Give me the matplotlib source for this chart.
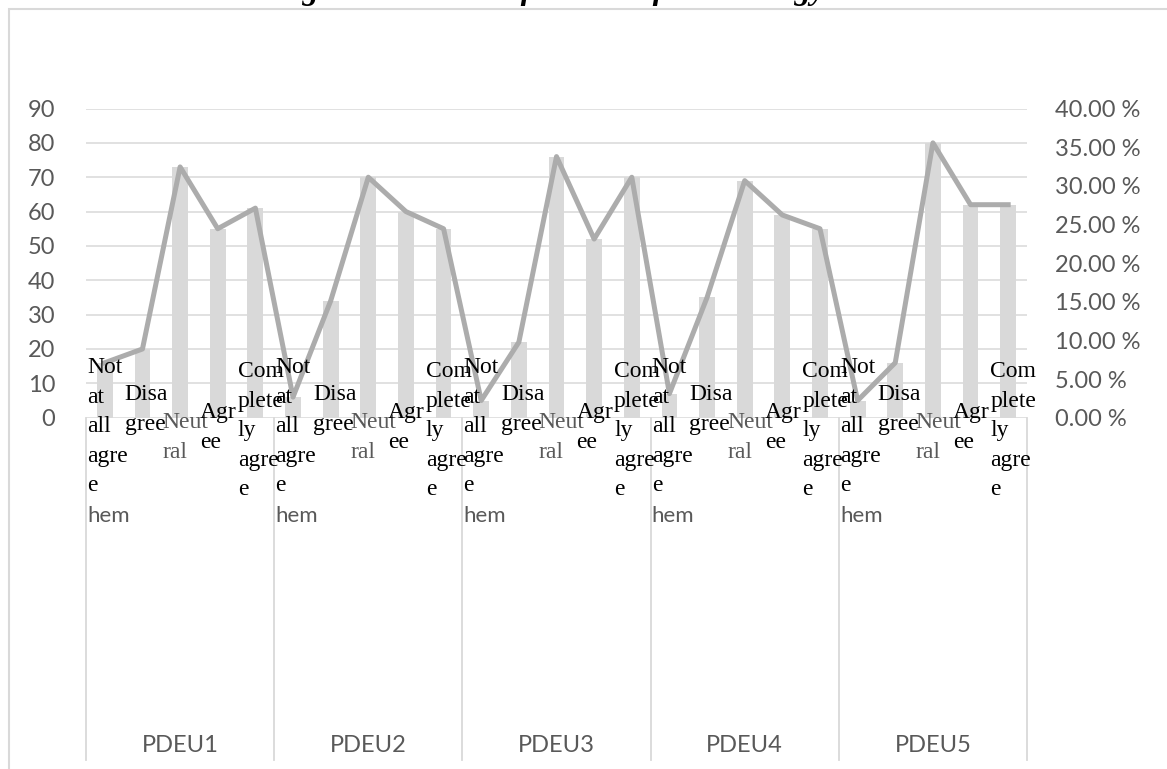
import matplotlib
matplotlib.use("Agg")
import matplotlib.pyplot as plt
from matplotlib import transforms
from matplotlib.patches import Rectangle
from matplotlib.lines import Line2D

# ---------------- data ----------------
title = "Figure 4.5: Ease of Access of Technology"
items = ["PDEU1", "PDEU2", "PDEU3", "PDEU4", "PDEU5"]
responses = ["Not at all agree", "Disagree", "Neutral", "Agree", "Completely agree"]
response_labels = ["Not\nat\nall\nagre\ne", "Disa\ngree", "Neut\nral", "Agr\nee",
                   "Com\nplete\nly\nagre\ne"]
pdeu1 = [16, 20, 73, 55, 61]
pdeu2 = [6, 34, 70, 60, 55]
pdeu3 = [5, 22, 76, 52, 70]
pdeu4 = [7, 35, 69, 59, 55]
pdeu5 = [5, 16, 80, 62, 62]
total_respondents = 225
left_ticks = [0, 10, 20, 30, 40, 50, 60, 70, 80, 90]
right_ticks = [0.0, 0.05, 0.10, 0.15, 0.20, 0.25, 0.30, 0.35, 0.40]

counts = [pdeu1, pdeu2, pdeu3, pdeu4, pdeu5]

# ---------------- layout (pixels) ----------------
W, H = 1167, 769
PX0, PX1 = 86, 1027
PY_TOP, PY_BOT = 108.5, 417.7
SERIF = "Liberation Serif"
SANS = "Lato"
GRAY_TXT = "#595959"

def fy(y):
    return 1 - y / H

fig = plt.figure(figsize=(W / 100, H / 100), dpi=100)
ax = fig.add_axes([PX0 / W, fy(PY_BOT), (PX1 - PX0) / W, (PY_BOT - PY_TOP) / H])
ax2 = ax.twinx()

n_resp = len(responses)
xs, vals, pcts = [], [], []
for g, row in enumerate(counts):
    for j, v in enumerate(row):
        xs.append(g * n_resp + j + 0.5)
        vals.append(v)
        pcts.append(v / total_respondents)

ax.bar(xs, vals, width=0.42, color="#d9d9d9", zorder=2)
ax2.plot(xs, pcts, color="#acacac", lw=3.6, solid_joinstyle="round", zorder=3)

ax.set_xlim(0, len(items) * n_resp)
ax.set_ylim(0, 90)
ax2.set_ylim(0, 0.40)
ax.set_xticks([])
ax.set_yticks(left_ticks)
ax.set_yticklabels([str(t) for t in left_ticks])
ax2.set_yticks(right_ticks)
ax2.set_yticklabels([f"{t*100:.2f} %" for t in right_ticks])
ax.yaxis.grid(True, color="#d9d9d9", lw=1.1)
ax.set_axisbelow(True)
for a in (ax, ax2):
    for s in a.spines.values():
        s.set_visible(False)
ax.tick_params(axis="y", length=0, pad=22, labelsize=17, labelcolor=GRAY_TXT)
ax2.tick_params(axis="y", length=0, pad=20, labelsize=17, labelcolor=GRAY_TXT)
for lab in ax.get_yticklabels() + ax2.get_yticklabels():
    lab.set_fontfamily(SANS)

# multi-level category axis
group_w = (PX1 - PX0) / len(items)
for g in range(len(items) + 1):
    x = (PX0 + g * group_w) / W
    fig.add_artist(Line2D([x, x], [fy(PY_BOT), fy(760)], color="#d9d9d9", lw=1.3))

blend = transforms.blended_transform_factory(ax.transData, fig.transFigure)
first_baseline = [373, 400, 428, 418, 377]
line_step = 29.6
for g, item in enumerate(items):
    for j, lab in enumerate(response_labels):
        col = GRAY_TXT if responses[j] == "Neutral" else "black"
        for k, part in enumerate(lab.split("\n")):
            fig.text(g * n_resp + j + 0.03, fy(first_baseline[j] + k * line_step), part,
                     transform=blend, ha="left", va="baseline", fontsize=17,
                     fontfamily=SERIF, color=col, zorder=5)
    fig.text(g * n_resp + 0.03, fy(522), "hem", transform=blend, ha="left",
             va="baseline", fontsize=16, fontfamily=SANS, color=GRAY_TXT, zorder=5)
    fig.text(g * n_resp + n_resp / 2, fy(745), item, transform=blend, ha="center",
             va="center", fontsize=17, fontfamily=SANS, color=GRAY_TXT, zorder=5)

# chart area border
fig.add_artist(Rectangle((9 / W, fy(780)), (1180 - 9) / W, (780 - 9) / H,
                         transform=fig.transFigure, fill=False, ec="#d9d9d9", lw=1.5))

# title (cut off by the top edge of the image); scaled to span the reference width
title_left, title_right = 272, 826
t = fig.text(title_left / W, fy(-0.5), title, ha="left", va="baseline", fontsize=23.5,
             fontfamily=SERIF, fontweight="bold", fontstyle="italic", color="black")
renderer = fig.canvas.get_renderer()
w_now = t.get_window_extent(renderer=renderer).width
t.set_fontsize(23.5 * (title_right - title_left) / w_now)

fig.savefig("out.png", dpi=100)
